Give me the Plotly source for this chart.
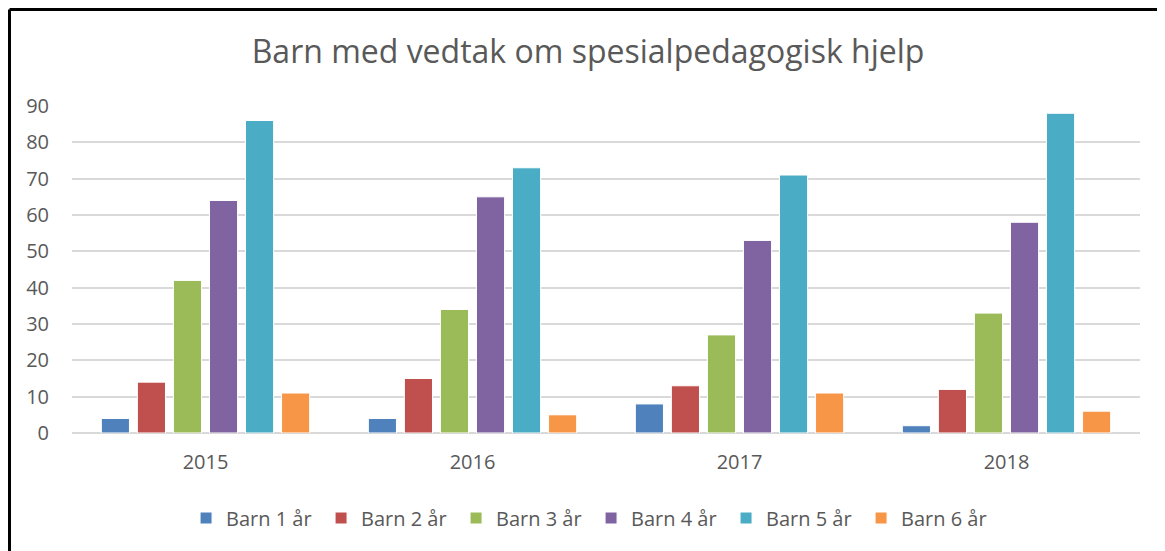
import plotly.graph_objects as go

years = ["2015", "2016", "2017", "2018"]
series_names = ["Barn 1 år", "Barn 2 år", "Barn 3 år", "Barn 4 år", "Barn 5 år", "Barn 6 år"]
barn1 = [4, 4, 8, 2]
barn2 = [14, 15, 13, 12]
barn3 = [42, 34, 27, 33]
barn4 = [64, 65, 53, 58]
barn5 = [86, 73, 71, 88]
barn6 = [11, 5, 11, 6]
series_values = [barn1, barn2, barn3, barn4, barn5, barn6]
colors = ["#4F81BD", "#C0504D", "#9BBB59", "#8064A2", "#4BACC6", "#F79646"]
y_ticks = [0, 10, 20, 30, 40, 50, 60, 70, 80, 90]

fig = go.Figure()
for name, vals, col in zip(series_names, series_values, colors):
    fig.add_trace(go.Bar(
        x=years, y=vals, name=name,
        marker=dict(color=col, line=dict(color="white", width=1)),
    ))

W, H = 1157, 543
L, R, T, B = 64, 25, 98, 118
pw, ph = W - L - R, H - T - B

font_family = "Open Sans, Lato, sans-serif"
fig.update_layout(
    width=W, height=H,
    barmode="group", bargap=0.19, bargroupgap=0.22,
    plot_bgcolor="white", paper_bgcolor="white",
    margin=dict(l=L, r=R, t=T, b=B),
    title=dict(text="Barn med vedtak om spesialpedagogisk hjelp",
               x=0.5013, xanchor="center", y=1 - 44 / H, yanchor="middle",
               font=dict(family=font_family, size=32, color="#595959")),
    font=dict(family=font_family, color="#595959", size=20),
    xaxis=dict(showgrid=False, showline=False, ticks="", ticklabelstandoff=15,
               tickfont=dict(size=20, color="#595959")),
    yaxis=dict(range=[0, 90], tickvals=y_ticks, showgrid=True,
               gridcolor="#D9D9D9", gridwidth=1.5, zeroline=True,
               zerolinecolor="#D9D9D9", zerolinewidth=1.5,
               showline=False, ticks="", ticklabelstandoff=22,
               tickfont=dict(size=20, color="#595959")),
    legend=dict(orientation="h", x=0.486, xanchor="center", y=-85 / ph, yanchor="middle",
                font=dict(size=20, color="#595959"), itemwidth=30,
                entrywidth=90, entrywidthmode="pixels",
                tracegroupgap=0),
    shapes=[
        dict(type="line", xref="paper", yref="paper",
             x0=-(L - 1.5) / pw, x1=1 + R / pw, y0=1 + (T - 1.5) / ph, y1=1 + (T - 1.5) / ph,
             line=dict(color="black", width=3)),
        dict(type="line", xref="paper", yref="paper",
             x0=-(L - 1.5) / pw, x1=-(L - 1.5) / pw, y0=-B / ph - 0.05, y1=1 + (T - 1.5) / ph,
             line=dict(color="black", width=3)),
    ],
)
fig.write_html("out.html")
